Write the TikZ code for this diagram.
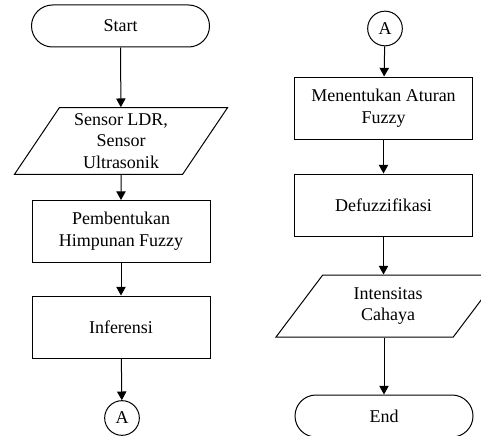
\documentclass[tikz,border=0pt]{standalone}
\usepackage{fontspec}
\setmainfont{Liberation Serif}
\usetikzlibrary{shapes.geometric,arrows.meta}

\tikzset{
	terminal/.style={draw,rectangle,rounded corners=15.75pt,minimum width=133.5pt,minimum height=31.5pt},
	process/.style={draw,rectangle,minimum width=133.5pt,minimum height=46.5pt,align=center},
	io/.style={draw,trapezium,trapezium left angle=62,trapezium right angle=118,
		trapezium stretches=true,minimum width=160pt,minimum height=50pt,align=center,inner xsep=0pt},
	connector/.style={draw,circle,minimum size=26pt,inner sep=0pt},
	flow/.style={-{Triangle[length=6.5pt,width=7pt]}}
}

\begin{document}
\begin{tikzpicture}[x=0.75pt,y=-0.75pt,line width=0.75pt,
				every node/.style={font=\fontsize{13.5}{16.3}\selectfont}]
\useasboundingbox (0,0) rectangle (481,435);
\begin{scope}
\clip (0,0) rectangle (481,435);
% left column
\node[terminal] (start) at (120.5,26) {Start};
\node[io] (sensor) at (121,141) {Sensor LDR,\\Sensor\\Ultrasonik};
\node[process] (himpunan) at (121,231.5) {Pembentukan\\Himpunan Fuzzy};
\node[process] (inferensi) at (121,327) {Inferensi};
\node[connector] (a1) at (122,418) {A};
% right column
\node[connector] (a2) at (385,28.5) {A};
\node[process] (aturan) at (383.5,108) {Menentukan Aturan\\Fuzzy};
\node[process] (defuzz) at (383.5,205) {Defuzzifikasi};
\node[io,minimum height=46.5pt,minimum width=169pt] (cahaya) at (388,306) {Intensitas\\Cahaya};
\node[terminal] (end) at (384,416) {End};
% arrows
\draw[flow] (start) -- (sensor);
\draw[flow] (sensor) -- (himpunan);
\draw[flow] (himpunan) -- (inferensi);
\draw[flow] (inferensi) -- (a1);
\draw[flow] (a2) -- (aturan);
\draw[flow] (aturan) -- (defuzz);
\draw[flow] (defuzz.south) -- (defuzz.south |- cahaya.north);
\draw[flow] (cahaya.south -| end.north) -- (end);
\end{scope}
\end{tikzpicture}
\end{document}
